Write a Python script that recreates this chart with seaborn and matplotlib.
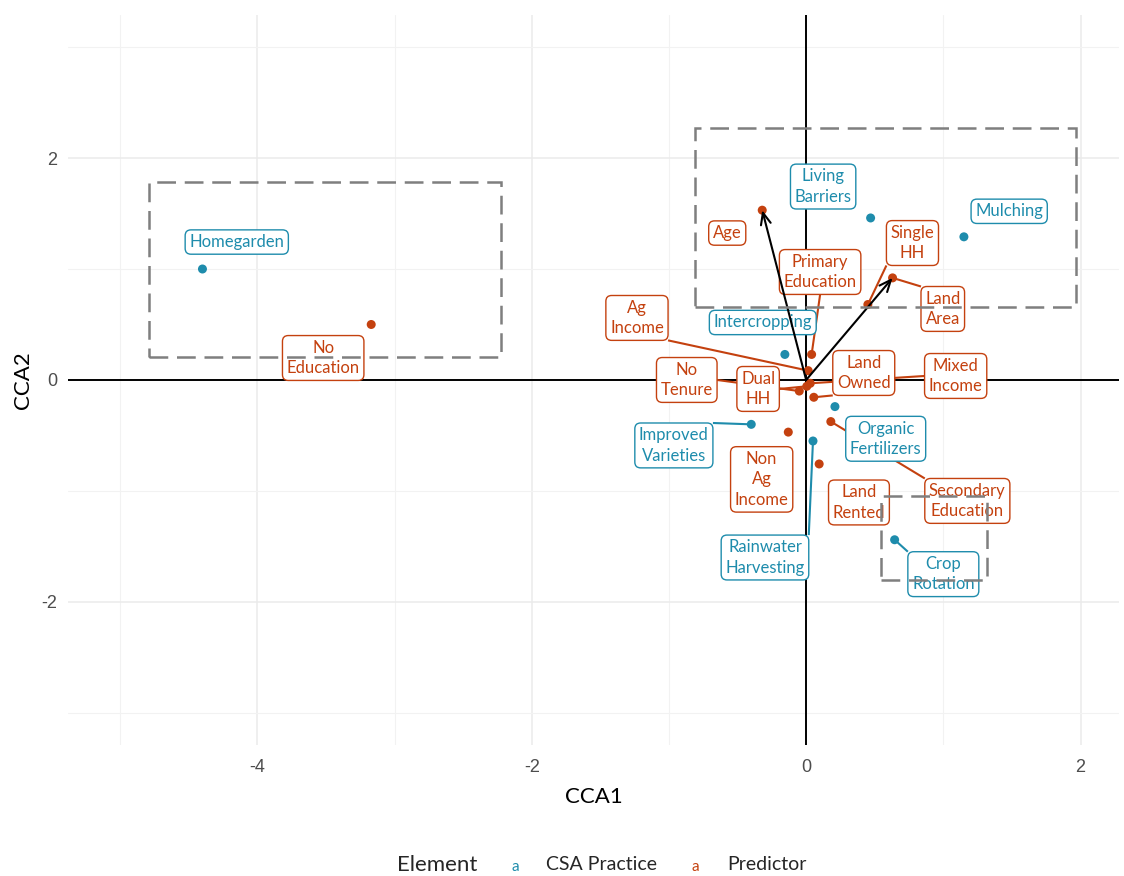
import numpy as np
import pandas as pd
import matplotlib
matplotlib.use("Agg")
import matplotlib.pyplot as plt
import seaborn as sns
from matplotlib.patches import Rectangle

# ---- CCA site scores: CSA practices ----
practice_names = ["Homegarden", "Living\nBarriers", "Mulching", "Intercropping",
                  "Organic\nFertilizers", "Improved\nVarieties",
                  "Rainwater\nHarvesting", "Crop\nRotation"]
practice_cca1 = [-4.40, 0.47, 1.15, -0.155, 0.21, -0.40, 0.05, 0.645]
practice_cca2 = [1.00, 1.46, 1.29, 0.23, -0.24, -0.40, -0.55, -1.44]

# ---- CCA scores: predictors ----
predictor_names = ["No\nEducation", "Age", "Land\nArea", "Single\nHH",
                   "Primary\nEducation", "Ag\nIncome", "Dual\nHH", "No\nTenure",
                   "Land\nOwned", "Mixed\nIncome", "Non\nAg\nIncome",
                   "Secondary\nEducation", "Land\nRented"]
predictor_cca1 = [-3.17, -0.32, 0.63, 0.45, 0.04, 0.015, 0.005, -0.05,
                  0.056, 0.03, -0.13, 0.18, 0.095]
predictor_cca2 = [0.50, 1.53, 0.92, 0.68, 0.23, 0.084, -0.057, -0.10,
                  -0.156, -0.03, -0.47, -0.375, -0.757]

# continuous predictors shown as vectors from the origin
vector_names = ["Age", "Land\nArea"]

# cluster outlines (CCA1 range, CCA2 range)
cluster_cca1_lo = [-4.79, -0.81, 0.548]
cluster_cca1_hi = [-2.223, 1.966, 1.32]
cluster_cca2_lo = [0.21, 0.655, -1.799]
cluster_cca2_hi = [1.786, 2.27, -1.042]

element_levels = ["CSA Practice", "Predictor"]
palette = {"CSA Practice": "#1E8CAC", "Predictor": "#C4410F"}

# ---- repelled label placement ----
label_pos = {
    "Homegarden": (-4.15, 1.243),
    "Living\nBarriers": (0.124, 1.743),
    "Mulching": (1.48, 1.52),
    "Intercropping": (-0.316, 0.518),
    "Organic\nFertilizers": (0.58, -0.53),
    "Improved\nVarieties": (-0.964, -0.59),
    "Rainwater\nHarvesting": (-0.30, -1.60),
    "Crop\nRotation": (1.0, -1.75),
    "No\nEducation": (-3.52, 0.198),
    "Age": (-0.575, 1.324),
    "Land\nArea": (0.996, 0.64),
    "Single\nHH": (0.775, 1.234),
    "Primary\nEducation": (0.102, 0.973),
    "Ag\nIncome": (-1.233, 0.559),
    "Dual\nHH": (-0.35, -0.081),
    "No\nTenure": (-0.87, 0.0),
    "Land\nOwned": (0.42, 0.063),
    "Mixed\nIncome": (1.09, 0.036),
    "Non\nAg\nIncome": (-0.324, -0.896),
    "Secondary\nEducation": (1.175, -1.09),
    "Land\nRented": (0.385, -1.104),
}
with_leader = {"Ag\nIncome", "Primary\nEducation", "Single\nHH", "Land\nArea",
               "No\nTenure", "Dual\nHH", "Land\nOwned", "Mixed\nIncome",
               "Improved\nVarieties", "Rainwater\nHarvesting", "Crop\nRotation",
               "Secondary\nEducation"}

scores = pd.DataFrame({
    "label": practice_names + predictor_names,
    "CCA1": practice_cca1 + predictor_cca1,
    "CCA2": practice_cca2 + predictor_cca2,
    "Element": ["CSA Practice"] * len(practice_names) + ["Predictor"] * len(predictor_names),
})

sns.set_theme(style="whitegrid")
plt.rcParams["font.family"] = ["Lato", "DejaVu Sans"]
plt.rcParams["axes.unicode_minus"] = False

fig = plt.figure(figsize=(11.24, 8.76), dpi=100)
ax = fig.add_axes([0.0605, 0.1495, 0.935, 0.8335])

ax.set_xlim(-5.38, 2.28)
ax.set_ylim(-3.29, 3.29)
ax.set_xticks([-4, -2, 0, 2])
ax.set_xticks([-5, -3, -1, 1], minor=True)
ax.set_yticks([-2, 0, 2])
ax.set_yticks([-3, -1, 1, 3], minor=True)
ax.grid(which="major", color="#EBEBEB", lw=1.1, zorder=0)
ax.grid(which="minor", color="#F2F2F2", lw=0.8, zorder=0)
ax.set_axisbelow(True)
for s in ax.spines.values():
    s.set_visible(False)
ax.tick_params(which="both", length=0, labelsize=13, labelcolor="#4D4D4D",
               labelfontfamily="Liberation Sans")
ax.tick_params(axis="x", pad=10)
ax.tick_params(axis="y", pad=8)

# reference axes through origin
ax.axhline(0, color="black", lw=1.4, zorder=1)
ax.axvline(0, color="black", lw=1.4, zorder=1)

# points
sns.scatterplot(data=scores, x="CCA1", y="CCA2", hue="Element",
                hue_order=element_levels, palette=palette, s=42,
                linewidth=0, legend=False, ax=ax, zorder=3)

# boxed labels
texts = {}
for _, row in scores.iterrows():
    col = palette[row["Element"]]
    lx, ly = label_pos[row["label"]]
    texts[row["label"]] = ax.text(
        lx, ly, row["label"], ha="center", va="center", fontsize=12,
        color=col, linespacing=1.35, zorder=5,
        bbox=dict(boxstyle="round,pad=0.25,rounding_size=0.35",
                  fc="white", ec=col, lw=1.0))

fig.canvas.draw()
inv = ax.transData.inverted()

# leader segments go to the nearest corner / edge midpoint of each box
for _, row in scores.iterrows():
    if row["label"] not in with_leader:
        continue
    col = palette[row["Element"]]
    bb = texts[row["label"]].get_bbox_patch().get_window_extent()
    px, py = ax.transData.transform((row["CCA1"], row["CCA2"]))
    xs = [bb.x0, (bb.x0 + bb.x1) / 2, bb.x1]
    ys = [bb.y0, (bb.y0 + bb.y1) / 2, bb.y1]
    cands = [(cx, cy) for cx in xs for cy in ys if not (cx == xs[1] and cy == ys[1])]
    ex, ey = min(cands, key=lambda c: (c[0] - px) ** 2 + (c[1] - py) ** 2)
    dx, dy = inv.transform((ex, ey))
    ax.plot([row["CCA1"], dx], [row["CCA2"], dy], color=col, lw=1.5,
            zorder=2, solid_capstyle="butt")

# predictor vectors
for name in vector_names:
    r = scores[scores["label"] == name].iloc[0]
    ax.annotate("", xy=(r["CCA1"], r["CCA2"]), xytext=(0, 0),
                arrowprops=dict(arrowstyle="->,head_length=0.7,head_width=0.3",
                                color="black", lw=1.5, shrinkA=0, shrinkB=0),
                zorder=7)

# cluster outlines
for x0, x1, y0, y1 in zip(cluster_cca1_lo, cluster_cca1_hi,
                          cluster_cca2_lo, cluster_cca2_hi):
    ax.add_patch(Rectangle((x0, y0), x1 - x0, y1 - y0, fill=False,
                           ec="#7F7F7F", lw=1.8, ls=(0, (7.5, 3.5)), zorder=8))

ax.set_xlabel("CCA1", fontsize=16, color="black", labelpad=8)
ax.set_ylabel("CCA2", fontsize=16, color="black", labelpad=6)

# legend along the bottom
ly = 1 - 865 / 876
fig.text(397 / 1124, ly, "Element", fontsize=16, va="center", ha="left")
fig.text(515 / 1124, ly - 0.002, "a", fontsize=11, va="center", ha="center",
         color=palette["CSA Practice"])
fig.text(546 / 1124, ly, "CSA Practice", fontsize=14, va="center", ha="left")
fig.text(695 / 1124, ly - 0.002, "a", fontsize=11, va="center", ha="center",
         color=palette["Predictor"])
fig.text(727 / 1124, ly, "Predictor", fontsize=14, va="center", ha="left")

fig.savefig("out.png", dpi=100, facecolor="white")
